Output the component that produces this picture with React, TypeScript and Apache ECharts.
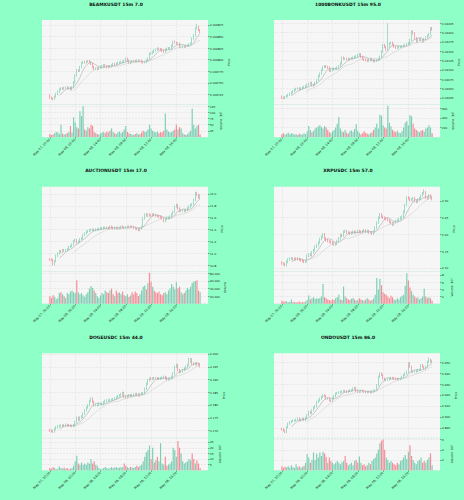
import React, { useEffect, useRef } from "react";
import * as echarts from "echarts";

// ---------- data ----------
const timeLabels = ["May 07, 20:00", "May 08, 00:00", "May 08, 04:00", "May 08, 08:00", "May 08, 12:00", "May 08, 16:00"];

const beamClose = [
  0.006718, 0.006716, 0.006715, 0.00672, 0.006726, 0.006731, 0.006736, 0.006738, 0.006737, 0.006739,
  0.00674, 0.006738, 0.006739, 0.006736, 0.00674, 0.006751, 0.006766, 0.006777, 0.006776, 0.006784,
  0.006793, 0.006795, 0.006794, 0.006796, 0.006797, 0.006795, 0.006791, 0.006784, 0.00678, 0.006781,
  0.00678, 0.006783, 0.006784, 0.006786, 0.006788, 0.006786, 0.006784, 0.006786, 0.006785, 0.006788,
  0.006791, 0.00679, 0.006792, 0.006793, 0.006794, 0.006795, 0.006796, 0.006797, 0.006802, 0.006798,
  0.006793, 0.006795, 0.006796, 0.006797, 0.006796, 0.006798, 0.006797, 0.006797, 0.006795, 0.006794,
  0.006795, 0.006798, 0.006802, 0.006813, 0.006814, 0.006817, 0.00682, 0.006822, 0.006824, 0.006823,
  0.006822, 0.006819, 0.006817, 0.006821, 0.006824, 0.006825, 0.006825, 0.00683, 0.006839, 0.006837,
  0.006835, 0.006835, 0.006828, 0.006828, 0.006829, 0.006828, 0.00683, 0.006831, 0.006833, 0.006835,
  0.006846, 0.006853, 0.006868, 0.006871, 0.006864, 0.00686,
];
const beamVolume = [
  12, 8, 10, 15, 20, 18, 12, 50, 14, 10,
  12, 15, 20, 45, 18, 80, 60, 40, 35, 105,
  85, 125, 30, 25, 40, 35, 50, 45, 20, 15,
  12, 10, 15, 18, 20, 15, 22, 18, 25, 35,
  20, 15, 12, 18, 22, 15, 20, 30, 45, 20,
  15, 12, 10, 8, 12, 15, 10, 12, 18, 25,
  20, 22, 30, 50, 35, 25, 20, 18, 22, 15,
  20, 18, 25, 95, 30, 22, 18, 20, 25, 30,
  50, 30, 40, 35, 15, 10, 8, 12, 18, 25,
  115, 50, 35, 45, 50, 10,
];

const bonkClose = [
  0.02025, 0.02024, 0.02027, 0.0203, 0.02033, 0.02036, 0.02039, 0.02043, 0.02047, 0.02049,
  0.0205, 0.02048, 0.0205, 0.02052, 0.02054, 0.02056, 0.0206, 0.02063, 0.02065, 0.02058,
  0.0206, 0.02065, 0.02072, 0.02083, 0.0209, 0.021, 0.02108, 0.0211, 0.02108, 0.02106,
  0.02097, 0.02099, 0.02101, 0.02103, 0.02103, 0.02106, 0.0211, 0.02117, 0.02133, 0.0213,
  0.0213, 0.02129, 0.02128, 0.0213, 0.02131, 0.02133, 0.02135, 0.02137, 0.0214, 0.02142,
  0.02135, 0.0213, 0.02127, 0.02126, 0.02124, 0.02126, 0.02129, 0.02126, 0.02123, 0.02124,
  0.02126, 0.02129, 0.02135, 0.02149, 0.02167, 0.02162, 0.02155, 0.02162, 0.02171, 0.02173,
  0.02168, 0.02162, 0.02159, 0.0216, 0.02161, 0.02162, 0.02164, 0.02165, 0.02167, 0.02169,
  0.02172, 0.0218, 0.02203, 0.02198, 0.02185, 0.02176, 0.0218, 0.02182, 0.0218, 0.02176,
  0.02183, 0.02187, 0.02192, 0.02196, 0.02212, 0.02208,
];
const bonkVolume = [
  60, 80, 50, 70, 90, 60, 80, 70, 50, 60,
  40, 70, 60, 50, 80, 60, 120, 230, 150, 100,
  130, 180, 200, 220, 250, 210, 180, 230, 200, 150,
  100, 80, 120, 150, 200, 280, 420, 180, 120, 100,
  150, 90, 70, 120, 140, 110, 170, 270, 130, 90,
  60, 80, 120, 90, 70, 60, 80, 100, 150, 200,
  280, 180, 470, 450, 250, 200, 180, 660, 300, 220,
  150, 120, 100, 130, 90, 80, 120, 200, 300, 340,
  250, 460, 440, 280, 180, 150, 120, 100, 130, 150,
  110, 180, 200, 250, 200, 80,
];

const auctionClose = [
  10.896, 10.884, 10.817, 10.868, 10.958, 10.997, 11.037, 11.025, 11.053, 11.045,
  11.053, 11.07, 11.11, 11.121, 11.149, 11.206, 11.223, 11.183, 11.194, 11.239,
  11.251, 11.307, 11.335, 11.363, 11.375, 11.392, 11.392, 11.398, 11.392, 11.4,
  11.408, 11.412, 11.42, 11.425, 11.431, 11.431, 11.425, 11.42, 11.448, 11.43,
  11.42, 11.431, 11.425, 11.42, 11.428, 11.448, 11.44, 11.431, 11.435, 11.448,
  11.44, 11.448, 11.445, 11.43, 11.42, 11.408, 11.392, 11.42, 11.448, 11.589,
  11.656, 11.634, 11.656, 11.64, 11.634, 11.656, 11.645, 11.634, 11.625, 11.617,
  11.6, 11.589, 11.544, 11.577, 11.59, 11.6, 11.617, 11.656, 11.7, 11.786,
  11.814, 11.758, 11.713, 11.713, 11.72, 11.713, 11.73, 11.758, 11.786, 11.814,
  11.825, 11.899, 12.011, 11.983, 11.938, 11.972,
];
const auctionVolume = [
  20000, 15000, 22000, 18000, 12000, 15000, 28000, 30000, 25000, 20000,
  15000, 28000, 25000, 32000, 35000, 30000, 28000, 62000, 30000, 25000,
  28000, 22000, 18000, 25000, 30000, 40000, 47000, 42000, 35000, 28000,
  20000, 15000, 22000, 28000, 25000, 35000, 30000, 28000, 35000, 40000,
  25000, 20000, 35000, 28000, 30000, 25000, 32000, 22000, 20000, 25000,
  18000, 22000, 30000, 25000, 32000, 28000, 20000, 25000, 35000, 45000,
  48000, 38000, 55000, 82000, 58000, 45000, 35000, 30000, 28000, 32000,
  25000, 22000, 28000, 30000, 25000, 35000, 40000, 52000, 45000, 38000,
  57000, 40000, 45000, 30000, 25000, 28000, 35000, 42000, 38000, 45000,
  55000, 58000, 60000, 62000, 35000, 30000,
];

const xrpClose = [
  2.113, 2.111, 2.108, 2.118, 2.125, 2.128, 2.128, 2.127, 2.126, 2.128,
  2.126, 2.124, 2.123, 2.12, 2.118, 2.12, 2.136, 2.14, 2.138, 2.146,
  2.153, 2.163, 2.168, 2.176, 2.186, 2.193, 2.2, 2.188, 2.183, 2.18,
  2.178, 2.176, 2.173, 2.17, 2.172, 2.18, 2.188, 2.198, 2.196, 2.208,
  2.21, 2.206, 2.205, 2.203, 2.205, 2.208, 2.206, 2.207, 2.21, 2.208,
  2.206, 2.21, 2.212, 2.208, 2.21, 2.206, 2.206, 2.203, 2.208, 2.22,
  2.235, 2.25, 2.26, 2.253, 2.25, 2.248, 2.246, 2.243, 2.238, 2.233,
  2.23, 2.235, 2.24, 2.243, 2.246, 2.25, 2.253, 2.268, 2.288, 2.31,
  2.308, 2.303, 2.305, 2.308, 2.3, 2.298, 2.304, 2.308, 2.316, 2.323,
  2.326, 2.31, 2.308, 2.316, 2.31, 2.306,
];
const xrpVolume = [
  0.8, 0.5, 0.7, 0.6, 0.4, 0.5, 1.2, 0.4, 0.5, 0.3,
  0.4, 0.6, 0.3, 0.5, 0.4, 0.6, 1.0, 2.3, 1.2, 1.5,
  1.8, 1.3, 1.5, 1.4, 1.6, 2.0, 5.5, 1.8, 1.5, 1.2,
  1.0, 0.8, 1.2, 1.0, 1.5, 1.8, 2.5, 1.2, 1.0, 4.8,
  2.0, 1.5, 1.2, 1.0, 1.4, 1.6, 1.2, 0.8, 1.0, 1.5,
  1.2, 1.0, 0.8, 1.2, 1.5, 1.2, 0.8, 1.0, 1.5, 2.5,
  7.2, 4.0, 7.0, 5.2, 3.2, 2.8, 2.5, 2.0, 1.5, 2.2,
  1.8, 1.2, 1.0, 1.5, 1.2, 1.8, 2.2, 2.5, 5.0, 8.5,
  6.5, 4.5, 3.5, 2.5, 2.0, 1.5, 1.8, 1.2, 1.5, 2.0,
  4.2, 2.0, 1.5, 1.8, 1.5, 0.8,
];

const dogeClose = [
  0.17, 0.1697, 0.1696, 0.1706, 0.1713, 0.1717, 0.1718, 0.1719, 0.172, 0.1719,
  0.1722, 0.172, 0.1719, 0.1718, 0.1718, 0.172, 0.1733, 0.175, 0.1742, 0.175,
  0.1755, 0.1766, 0.1779, 0.179, 0.1799, 0.1816, 0.1825, 0.1812, 0.1799, 0.1799,
  0.18, 0.1803, 0.1803, 0.1805, 0.1811, 0.1816, 0.1818, 0.1818, 0.182, 0.1821,
  0.1823, 0.1826, 0.183, 0.1834, 0.1838, 0.1841, 0.1847, 0.1832, 0.183, 0.1834,
  0.1838, 0.1836, 0.1838, 0.184, 0.1842, 0.184, 0.1838, 0.1842, 0.1845, 0.1847,
  0.1864, 0.1884, 0.1897, 0.1904, 0.1903, 0.1905, 0.1904, 0.1905, 0.1903, 0.1904,
  0.1905, 0.1907, 0.191, 0.1906, 0.19, 0.1902, 0.1904, 0.191, 0.1924, 0.195,
  0.1957, 0.1937, 0.193, 0.1932, 0.1937, 0.1943, 0.195, 0.1957, 0.197, 0.1979,
  0.1963, 0.196, 0.1963, 0.1959, 0.1958, 0.1953,
];
const dogeVolume = [
  2, 1.5, 3, 2, 1, 1.5, 3.5, 2, 1.5, 2.5,
  1.5, 2, 1, 1.5, 2, 4, 8, 13, 6, 5,
  7, 5, 6, 5, 7, 6, 10, 6, 8, 5,
  4, 2, 1, 1.5, 2, 3, 2, 1.5, 2, 3,
  2, 2.5, 3, 2, 2.5, 3, 2.5, 6, 4, 3,
  2, 3, 2.5, 2, 3, 4, 3, 4, 5, 8,
  12, 16, 18, 22, 10, 20, 7, 9, 12, 8,
  24, 6, 5, 12, 4, 5, 6, 8, 20, 18,
  12, 26, 20, 15, 8, 6, 7, 8, 10, 9,
  15, 10, 6, 9, 6, 2,
];

const ondoClose = [
  0.8885, 0.8875, 0.886, 0.8906, 0.8937, 0.8952, 0.8962, 0.8965, 0.8968, 0.8974,
  0.8983, 0.8968, 0.8974, 0.8983, 0.8974, 0.899, 0.9014, 0.9045, 0.9035, 0.906,
  0.9085, 0.9097, 0.9137, 0.9152, 0.9168, 0.9183, 0.9198, 0.9189, 0.9168, 0.9168,
  0.9152, 0.9146, 0.9168, 0.9189, 0.9214, 0.922, 0.9225, 0.9229, 0.9232, 0.9238,
  0.9235, 0.9229, 0.9238, 0.9242, 0.9245, 0.926, 0.9266, 0.9238, 0.9229, 0.9232,
  0.9238, 0.9235, 0.923, 0.9226, 0.9229, 0.9229, 0.9226, 0.9232, 0.9238, 0.9245,
  0.9291, 0.9368, 0.9398, 0.9383, 0.9352, 0.9337, 0.934, 0.9343, 0.935, 0.9358,
  0.9355, 0.9352, 0.9349, 0.9343, 0.9346, 0.9352, 0.9368, 0.9383, 0.9398, 0.9414,
  0.9491, 0.946, 0.9414, 0.9414, 0.9416, 0.942, 0.9429, 0.9435, 0.9475, 0.946,
  0.9445, 0.946, 0.9506, 0.9522, 0.9506, 0.9515,
];
const ondoVolume = [
  0.8, 0.5, 0.7, 0.6, 0.8, 0.5, 1.0, 0.6, 0.5, 1.2,
  0.6, 0.8, 0.5, 0.7, 0.9, 1.5, 3.2, 2.5, 1.5, 2.0,
  3.5, 2.0, 3.3, 2.5, 3.5, 2.8, 3.6, 3.3, 2.6, 1.5,
  2.5, 1.8, 1.5, 1.2, 1.5, 1.8, 1.5, 1.2, 1.6, 1.8,
  2.8, 1.5, 1.0, 1.2, 1.5, 1.0, 1.8, 2.0, 1.5, 2.7,
  1.5, 1.0, 1.2, 0.8, 1.0, 1.5, 1.2, 1.8, 2.2, 2.5,
  3.3, 4.0, 5.3, 5.8, 6.0, 4.0, 2.5, 2.0, 1.5, 1.8,
  1.5, 1.2, 1.0, 1.5, 1.2, 1.8, 2.0, 2.5, 3.0, 2.2,
  3.6, 4.9, 2.8, 2.0, 1.5, 1.2, 1.8, 2.0, 2.5, 1.5,
  1.8, 1.5, 2.0, 2.5, 3.3, 1.0,
];

// price tick labels
const beamTicks = [0.006725, 0.00675, 0.006775, 0.0068, 0.006825, 0.00685, 0.006875];
const bonkTicks = [0.02025, 0.0205, 0.02075, 0.021, 0.02125, 0.0215, 0.02175, 0.022, 0.02225];
const auctionTicks = [10.8, 11.0, 11.2, 11.4, 11.6, 11.8, 12.0];
const xrpTicks = [2.1, 2.15, 2.2, 2.25, 2.3];
const dogeTicks = [0.17, 0.175, 0.18, 0.185, 0.19, 0.195, 0.2];
const ondoTicks = [0.89, 0.9, 0.91, 0.92, 0.93, 0.94, 0.95];

const panels = [
  { title: "BEAMXUSDT 15m 7.0", close: beamClose, firstOpen: 0.006722, volume: beamVolume, ticks: beamTicks, digits: 6, pMin: 0.006703, pMax: 0.006886, vMax: 132, vStep: 25, vName: "Volume  10⁶", wick: 0.0000025, spikes: [[93, 0.006878]] },
  { title: "1000BONKUSDT 15m 95.0", close: bonkClose, firstOpen: 0.02028, volume: bonkVolume, ticks: bonkTicks, digits: 5, pMin: 0.020069, pMax: 0.022339, vMax: 686, vStep: 200, vName: "Volume  10⁶", wick: 0.00003, spikes: [[67, 0.02225]] },
  { title: "AUCTIONUSDT 15m 17.0", close: auctionClose, firstOpen: 10.9, volume: auctionVolume, ticks: auctionTicks, digits: 1, pMin: 10.699, pMax: 12.123, vMax: 86200, vStep: 20000, vName: "Volume", wick: 0.02, spikes: [[92, 12.04]] },
  { title: "XRPUSDC 15m 57.0", close: xrpClose, firstOpen: 2.116, volume: xrpVolume, ticks: xrpTicks, digits: 2, pMin: 2.09, pMax: 2.343, vMax: 9.1, vStep: 2, vName: "Volume  10⁶", wick: 0.004, spikes: [[90, 2.335]] },
  { title: "DOGEUSDC 15m 44.0", close: dogeClose, firstOpen: 0.1702, volume: dogeVolume, ticks: dogeTicks, digits: 3, pMin: 0.16712, pMax: 0.20028, vMax: 28.8, vStep: 5, vName: "Volume  10⁶", wick: 0.0005, spikes: [[88, 0.1986]] },
  { title: "ONDOUSDT 15m 86.0", close: ondoClose, firstOpen: 0.889, volume: ondoVolume, ticks: ondoTicks, digits: 3, pMin: 0.8808, pMax: 0.9583, vMax: 6.35, vStep: 2, vName: "Volume  10⁶", wick: 0.001, spikes: [[93, 0.9545]] },
];

const MAV = [7, 16];

// ---------- style ----------
const BG = "#8effc6";
const PLOT_BG = "#f6f6f6";
const UP = "#4bc29a";
const DOWN = "#f25e6d";
const VUP = "#7ccfb4";
const VDOWN = "#f58d97";
const GRID = "#dedede";
const FONT = "DejaVu Sans";
const N = 96;
const PAD = 5;
const M = N + 2 * PAD;
const TICK_EVERY = 16;

const isTick = (k: number) => {
  const i = k - PAD;
  return i >= 0 && i < N && i % TICK_EVERY === 0;
};

function movingAvg(c: number[], n: number) {
  const out: (number | null)[] = [];
  for (let i = 0; i < c.length; i++) {
    if (i < n - 1) { out.push(null); continue; }
    let s = 0;
    for (let j = i - n + 1; j <= i; j++) s += c[j];
    out.push(s / n);
  }
  return out;
}

function buildOption() {
  const cats = Array.from({ length: M }, (_, k) => (isTick(k) ? timeLabels[(k - PAD) / TICK_EVERY] : ""));
  const option: any = {
    animation: false,
    backgroundColor: BG,
    textStyle: { fontFamily: FONT },
    grid: [],
    xAxis: [],
    yAxis: [],
    series: [],
    graphic: [],
  };
  panels.forEach((p, idx) => {
    const col = idx % 2;
    const row = Math.floor(idx / 2);
    const ox = col * 232;
    const oy = (row * 500) / 3;
    const gi = option.grid.length;
    option.grid.push({ left: ox + 42, top: oy + 20, width: 166, height: 84.5, show: true, backgroundColor: PLOT_BG, borderWidth: 0 });
    option.grid.push({ left: ox + 42, top: oy + 104.5, width: 166, height: 32.5, show: true, backgroundColor: PLOT_BG, borderWidth: 0 });

    const split = { show: true, interval: (k: number) => isTick(k), lineStyle: { color: GRID, width: 0.5, type: [2, 1] } };
    option.xAxis.push({
      type: "category", gridIndex: gi, data: cats, boundaryGap: false,
      axisLine: { show: false }, axisTick: { show: false }, axisLabel: { show: false }, splitLine: split,
    });
    option.xAxis.push({
      type: "category", gridIndex: gi + 1, data: cats, boundaryGap: false,
      axisLine: { show: false },
      axisTick: { show: true, interval: (k: number) => isTick(k), length: 1.5, lineStyle: { color: "#444", width: 0.5 } },
      axisLabel: { show: true, interval: (k: number) => isTick(k), rotate: 45, fontSize: 3.2, margin: 2, color: "#222", fontFamily: FONT },
      splitLine: split,
    });
    option.yAxis.push({
      type: "value", gridIndex: gi, position: "right", min: p.pMin, max: p.pMax, scale: true,
      axisLine: { show: false },
      axisTick: { show: true, customValues: p.ticks, length: 1.5, lineStyle: { color: "#444", width: 0.5 } },
      axisLabel: { customValues: p.ticks, fontSize: 2.8, margin: 2, color: "#222", fontFamily: FONT, formatter: (v: number) => v.toFixed(p.digits) },
      splitLine: { show: true, lineStyle: { color: GRID, width: 0.5, type: [2, 1] } },
      name: "Price", nameLocation: "middle", nameGap: 12, nameRotate: 90,
      nameTextStyle: { fontSize: 3, color: "#222", fontFamily: FONT },
    });
    option.yAxis.push({
      type: "value", gridIndex: gi + 1, position: "right", min: 0, max: p.vMax, interval: p.vStep,
      axisLine: { show: false },
      axisTick: { show: true, length: 1.5, lineStyle: { color: "#444", width: 0.5 } },
      axisLabel: { fontSize: 2.8, margin: 2, color: "#222", fontFamily: FONT, showMinLabel: false, showMaxLabel: false },
      splitLine: { show: true, lineStyle: { color: GRID, width: 0.5, type: [2, 1] } },
      name: p.vName, nameLocation: "middle", nameGap: p.vStep >= 1000 ? 15 : 10, nameRotate: 90,
      nameTextStyle: { fontSize: 3, color: "#222", fontFamily: FONT },
    });

    const spikeMap: Record<number, number> = {};
    p.spikes.forEach(([i, v]) => (spikeMap[i] = v));
    const candles: number[][] = [];
    const vols: any[] = [];
    p.close.forEach((c, i) => {
      const o = i === 0 ? p.firstOpen : p.close[i - 1];
      const hi = spikeMap[i] !== undefined ? spikeMap[i] : Math.max(o, c) + p.wick;
      const lo = Math.min(o, c) - p.wick;
      candles.push([i + PAD, o, c, lo, hi]);
      vols.push({ value: [i + PAD, p.volume[i]], itemStyle: { color: c >= o ? VUP : VDOWN } });
    });

    option.series.push({
      type: "bar", xAxisIndex: gi + 1, yAxisIndex: gi + 1, data: vols, barWidth: "75%", silent: true,
    });
    option.series.push({
      type: "candlestick", xAxisIndex: gi, yAxisIndex: gi, data: candles,
      encode: { x: 0, y: [1, 2, 3, 4] }, barWidth: "70%", silent: true,
      itemStyle: { color: UP, color0: DOWN, borderColor: UP, borderColor0: DOWN, borderWidth: 0.5 },
    });
    MAV.forEach((n, mi) => {
      const ma = movingAvg(p.close, n);
      option.series.push({
        type: "line", xAxisIndex: gi, yAxisIndex: gi, silent: true, showSymbol: false,
        data: ma.map((v, i) => [i + PAD, v === null ? "-" : v]),
        lineStyle: { color: mi === 0 ? "#a8a8a8" : "#cfcfcf", width: 0.6 },
      });
    });

    option.graphic.push({
      type: "text", x: ox + 116, y: oy + 1.5,
      style: { text: p.title, fill: "#111", font: `bold 4.5px "${FONT}"`, textAlign: "center", textVerticalAlign: "top" },
    });
  });
  return option;
}

export default function App() {
  const ref = useRef<HTMLDivElement>(null);
  useEffect(() => {
    document.body.style.margin = "0";
    if (!ref.current) return;
    const chart = echarts.init(ref.current, undefined, { renderer: "svg" });
    chart.setOption(buildOption());
    return () => chart.dispose();
  }, []);
  return <div ref={ref} style={{ width: 464, height: 500 }} />;
}
